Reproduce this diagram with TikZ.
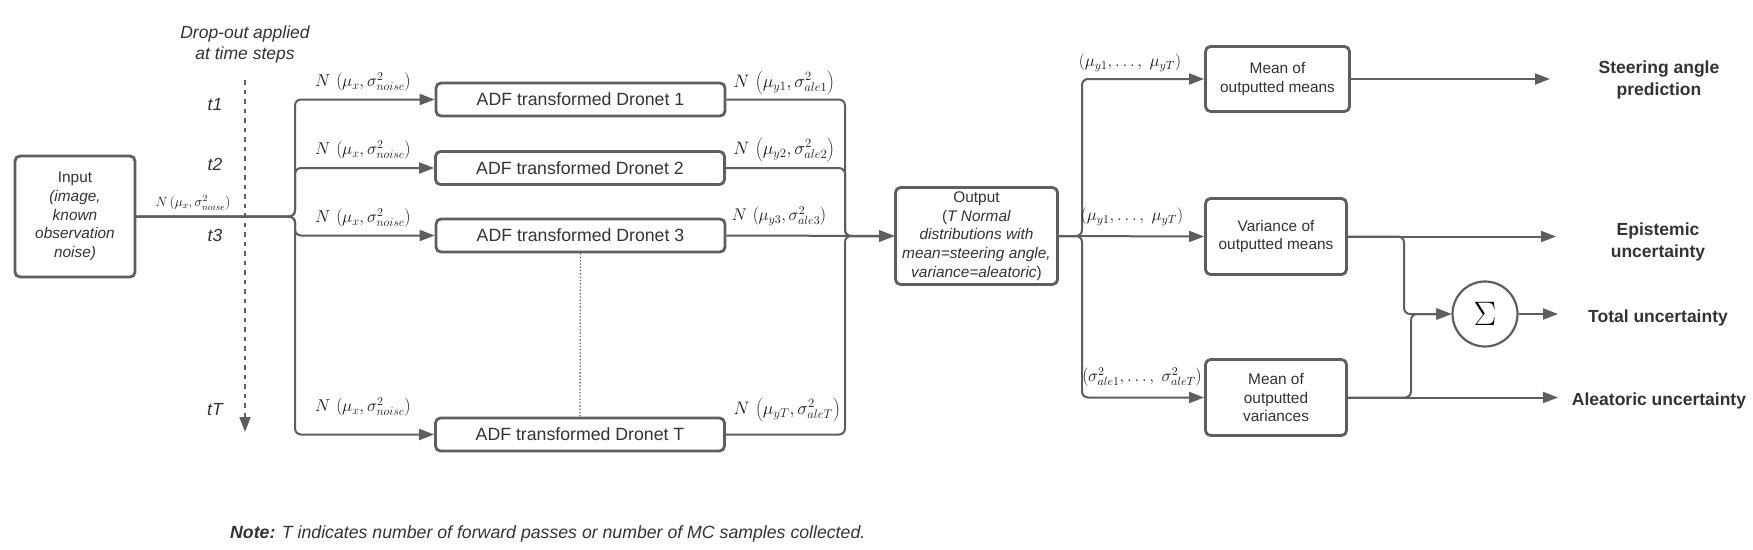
\RequirePackage{fix-cm}
\documentclass[tikz,border=0pt]{standalone}
\usepackage[no-math]{fontspec}
\setmainfont{Liberation Sans}
\usetikzlibrary{arrows.meta}
\definecolor{ln}{HTML}{5E5E5E}
\definecolor{tx}{HTML}{333333}
\definecolor{mx}{HTML}{1A1A1A}
\begin{document}
\begin{tikzpicture}[x=1pt,y=-1pt,
  box/.style={draw=ln, line width=2.8pt, rounded corners=5pt, align=center, text=tx, inner sep=0pt,
    font=\fontsize{15.4pt}{18.7pt}\selectfont},
  dbox/.style={box, minimum width=289pt, minimum height=33pt, font=\fontsize{17.7pt}{21pt}\selectfont},
  conn/.style={draw=ln, line width=2pt, rounded corners=6pt, -{Triangle[length=15pt,width=11pt]}},
  lab/.style={text=mx, inner sep=0pt, font=\fontsize{17.2pt}{20pt}\selectfont},
  rlab/.style={text=mx, inner sep=0pt, font=\fontsize{18pt}{20pt}\selectfont},
  slab/.style={text=mx, inner sep=0pt, font=\fontsize{13.4pt}{15pt}\selectfont},
  mlab/.style={text=mx, inner sep=0pt, font=\fontsize{17pt}{18pt}\selectfont},
  tlab/.style={text=tx, inner sep=0pt, align=center, font=\fontsize{17.5pt}{21pt}\selectfont\itshape},
  res/.style={text=tx, inner sep=0pt, align=center, font=\fontsize{17.5pt}{22pt}\selectfont\bfseries}
]
\useasboundingbox (0,0) rectangle (1753,549);
\fill[white] (0,0) rectangle (1753,549);

% input
\node[box, minimum width=120pt, minimum height=121pt] (in) at (75,216.5)
  {Input\\\textit{(image,}\\\textit{known}\\\textit{observation}\\\textit{noise)}};

% time steps
\node[tlab] (drop) at (245,44) {Drop-out applied\\at time steps};
\node[tlab] (t1) at (215,105) {t1};
\node[tlab] (t2) at (215,164) {t2};
\node[tlab] (t3) at (215,235) {t3};
\node[tlab] (tT) at (215,410) {tT};
\coordinate (dtop) at (245,80);
\coordinate (dbot) at (245,432);
\draw[draw=ln, line width=1.6pt, dash pattern=on 4.5pt off 5pt, -{Triangle[length=15pt,width=11pt]}] (dtop) -- (dbot);

% dronet boxes
\node[dbox] (d1) at (580.5,99.5) {ADF transformed Dronet 1};
\node[dbox] (d2) at (580,168) {ADF transformed Dronet 2};
\node[dbox] (d3) at (580.5,235.5) {ADF transformed Dronet 3};
\node[dbox] (dT) at (580,434.5) {ADF transformed Dronet T};
\draw[draw=ln, line width=1.3pt, dotted] (d3.south) -- (dT.north);

% input connectors
\coordinate (sl) at (295,216.5);
\node[slab] (lin) at (193,203) {$N\,\bigl(\mu_x,\sigma^2_{noise}\bigr)$};
\draw[conn] (in.east) -- (sl) |- (d1.west);
\draw[conn] (in.east) -- (sl) |- (d2.west);
\draw[conn] (in.east) -- (sl) |- (d3.west);
\draw[conn] (in.east) -- (sl) |- (dT.west);
\node[lab] (l1) at (363,82) {$N\,\left(\mu_x,\sigma^2_{noise}\right)$};
\node[lab] (l2) at (363,150) {$N\,\left(\mu_x,\sigma^2_{noise}\right)$};
\node[lab] (l3) at (363,218) {$N\,\left(\mu_x,\sigma^2_{noise}\right)$};
\node[lab] (lT) at (363,407) {$N\,\left(\mu_x,\sigma^2_{noise}\right)$};

% output
\node[box, minimum width=162pt, minimum height=97pt] (out) at (976.5,236)
  {Output\\(\textit{T Normal}\\\textit{distributions with}\\\textit{mean=steering angle,}\\\textit{variance=aleatoric})};
\coordinate (mr) at (845,236);
\draw[conn] (d1.east) -| (mr) -- (out.west);
\draw[conn] (d2.east) -| (mr) -- (out.west);
\draw[conn] (d3.east) -- (out.west);
\draw[conn] (dT.east) -| (mr) -- (out.west);
\node[rlab] (r1) at (784,83) {$N\,\left(\mu_{y1},\sigma^2_{ale1}\right)$};
\node[rlab] (r2) at (784,150) {$N\,\left(\mu_{y2},\sigma^2_{ale2}\right)$};
\node[mlab] (r3) at (779,216) {$N\,\left(\mu_{y3},\sigma^2_{ale3}\right)$};
\node[rlab] (rT) at (787,410) {$N\,\left(\mu_{yT},\sigma^2_{aleT}\right)$};

% statistics boxes
\node[box, minimum width=144pt, minimum height=65pt] (mm) at (1277.5,79) {Mean of\\outputted means};
\node[box, minimum width=141pt, minimum height=76pt] (vm) at (1276,236.5) {Variance of\\outputted means};
\node[box, minimum width=141pt, minimum height=76pt] (mv) at (1276,397.5) {Mean of\\outputted\\variances};
\coordinate (so) at (1082,236);
\draw[conn] (out.east) -- (so) |- (mm.west);
\draw[conn] (out.east) -- (vm.west);
\draw[conn] (out.east) -- (so) |- (mv.west);
\node[mlab] (s1) at (1130,63) {$\left(\mu_{y1},\ldots,\ \mu_{yT}\right)$};
\node[mlab] (s2) at (1132,217) {$\left(\mu_{y1},\ldots,\ \mu_{yT}\right)$};
\node[mlab] (s3) at (1142,377) {$\left(\sigma^2_{ale1},\ldots,\ \sigma^2_{aleT}\right)$};

% results
\node[res] (steer) at (1659,80) {Steering angle\\prediction};
\node[res] (epi) at (1658,242) {Epistemic\\uncertainty};
\node[res] (tot) at (1658,318) {Total uncertainty};
\node[res] (ale) at (1659,401) {Aleatoric uncertainty};
\node[draw=ln, line width=2.2pt, circle, minimum size=65pt, inner sep=0pt, text=black,
  font=\fontsize{34pt}{34pt}\selectfont] (sig) at (1485,314) {$\Sigma$};

\coordinate (steerEnd) at (1550,79);
\coordinate (epiEnd) at (1556,236.5);
\coordinate (totEnd) at (1558,314);
\coordinate (aleEnd) at (1558,397.5);
\coordinate (b1) at (1404,236.5);
\coordinate (b2) at (1411,397.5);
\draw[conn] (mm.east) -- (steerEnd);
\draw[conn] (vm.east) -- (epiEnd);
\draw[conn] (vm.east) -- (b1) |- (sig.west);
\draw[conn] (mv.east) -- (b2) |- (sig.west);
\draw[conn] (mv.east) -- (aleEnd);
\draw[conn] (sig.east) -- (totEnd);

% note
\node[text=tx, inner sep=0pt, anchor=west, font=\fontsize{17.7pt}{20pt}\selectfont\itshape] (note) at (230,534)
  {\textbf{Note:} T indicates number of forward passes or number of MC samples collected.};
\end{tikzpicture}
\end{document}
